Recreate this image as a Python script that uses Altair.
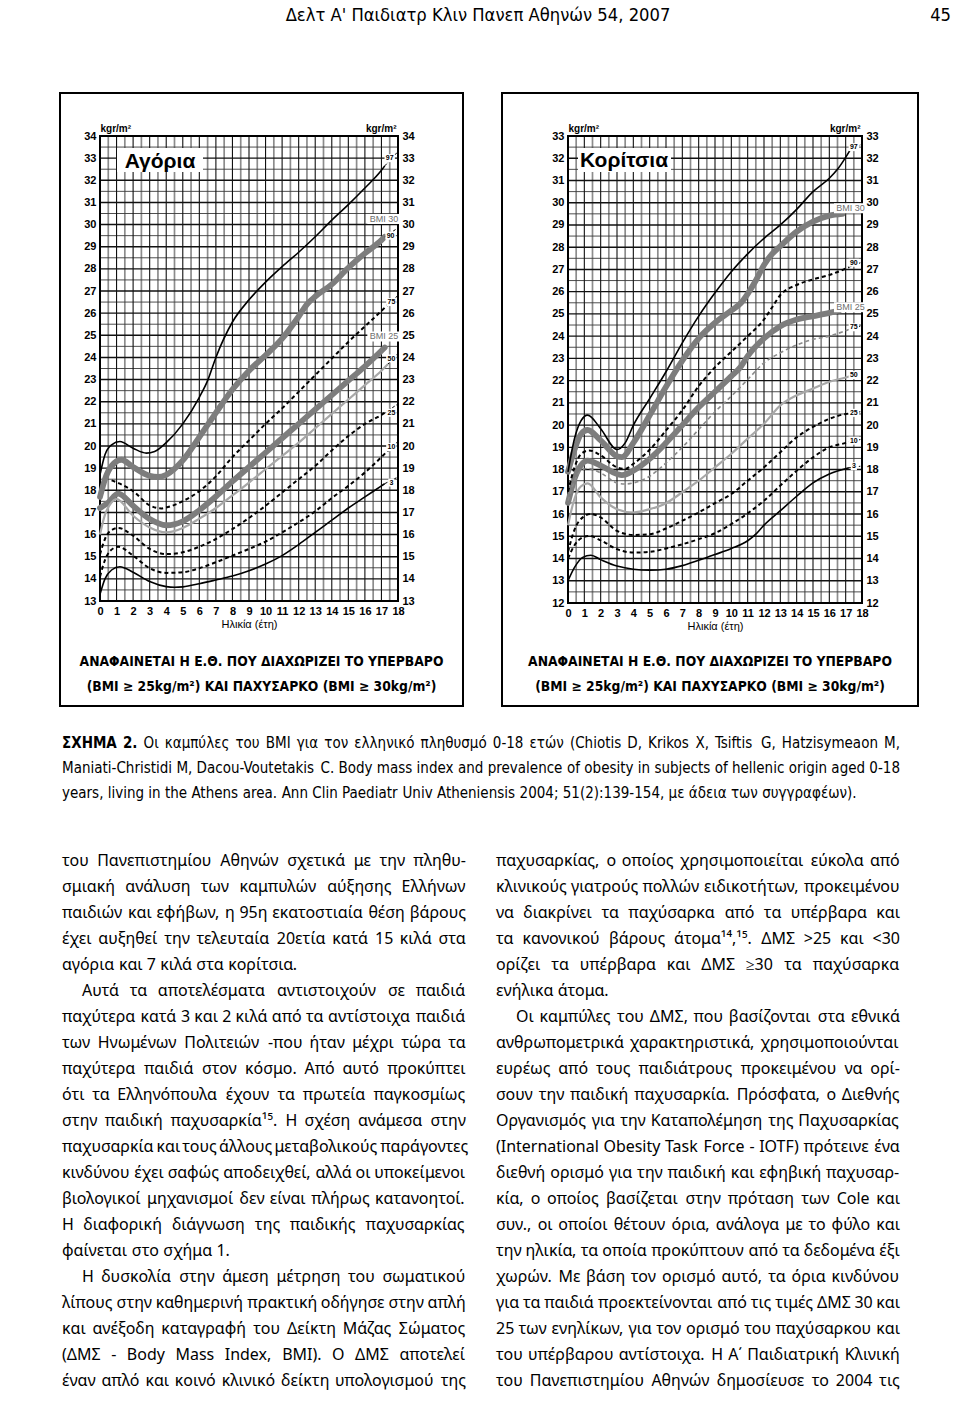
import struct
import subprocess
import altair as alt
import pandas as pd

# ====================== figure data ======================
# Boys (Αγόρια): age in years -> BMI kg/m²
B_P3_AGE = [0, 0.3, 0.7, 1.2, 2, 3, 4, 4.5, 5, 6, 7, 8, 9, 10, 11, 12, 13, 14, 15, 16, 17, 17.2]
B_P3 = [13.3, 14.0, 14.4, 14.55, 14.3, 13.88, 13.65, 13.62, 13.64, 13.78, 13.95, 14.13, 14.37, 14.67, 15.05, 15.55, 16.1, 16.65, 17.2, 17.7, 18.2, 18.3]
B_P10_AGE = [0, 0.3, 0.6, 1.1, 2, 3, 4, 5, 6, 7, 8, 9, 10, 11, 12, 13, 14, 15, 16, 17, 17.4]
B_P10 = [14.1, 14.85, 15.25, 15.45, 15.05, 14.48, 14.27, 14.3, 14.48, 14.75, 15.05, 15.35, 15.68, 16.1, 16.55, 17.05, 17.65, 18.2, 18.8, 19.5, 19.8]
B_P25_AGE = [0, 0.3, 0.6, 1.1, 2, 3, 4, 5, 6, 7, 8, 9, 10, 11, 12, 13, 14, 15, 16, 17, 17.4]
B_P25 = [15.1, 15.8, 16.15, 16.3, 15.95, 15.35, 15.12, 15.2, 15.45, 15.8, 16.25, 16.75, 17.3, 17.9, 18.5, 19.1, 19.8, 20.45, 21.0, 21.4, 21.6]
B_P50_AGE = [0, 0.3, 0.6, 1.0, 2, 3, 4, 5, 6, 7, 8, 9, 10, 11, 12, 13, 14, 15, 16, 17, 17.4]
B_P50 = [16.0, 16.9, 17.35, 17.6, 16.85, 16.32, 16.1, 16.3, 16.72, 17.2, 17.77, 18.35, 18.95, 19.55, 20.15, 20.8, 21.45, 22.1, 22.75, 23.4, 23.7]
B_P75_AGE = [0.7, 1.2, 2, 3, 3.7, 4, 5, 6, 7, 8, 9, 10, 11, 12, 13, 14, 15, 16, 17, 17.4]
B_P75 = [18.45, 18.3, 17.96, 17.32, 17.18, 17.22, 17.51, 17.96, 18.63, 19.5, 20.25, 21.0, 21.7, 22.45, 23.2, 23.95, 24.7, 25.4, 26.1, 26.4]
B_BMI25_AGE = [0, 0.5, 1.1, 2, 3, 4, 5, 6, 7, 8, 9, 10, 11, 12, 13, 14, 15, 16, 17, 17.2]
B_BMI25 = [17.2, 17.45, 17.85, 17.3, 16.7, 16.42, 16.6, 17.1, 17.72, 18.4, 19.05, 19.7, 20.35, 21.0, 21.65, 22.3, 22.95, 23.6, 24.3, 24.45]
B_BMI30_AGE = [0, 0.3, 0.7, 1.3, 2, 3, 3.5, 4, 5, 6, 7, 8, 9, 10, 11, 12, 12.5, 13, 14, 15, 16, 17, 17.2]
B_BMI30 = [17.7, 18.5, 19.1, 19.38, 19.05, 18.65, 18.6, 18.7, 19.35, 20.4, 21.5, 22.55, 23.4, 24.1, 24.85, 25.85, 26.4, 26.75, 27.3, 28.05, 28.7, 29.3, 29.45]
B_P97_AGE = [0, 0.3, 0.7, 1.2, 2, 2.8, 3.3, 4, 5, 6, 6.5, 7, 8, 9, 10, 11, 12, 13, 14, 15, 16, 17, 17.2]
B_P97 = [18.7, 19.6, 20.05, 20.2, 19.9, 19.68, 19.75, 20.15, 21.0, 22.2, 22.95, 24.0, 25.6, 26.6, 27.4, 28.1, 28.75, 29.45, 30.2, 30.9, 31.65, 32.45, 32.65]

B_LAB_TEXT = ["97", "90", "75", "50", "25", "10", "3"]
B_LAB_AGE = [17.5, 17.55, 17.6, 17.6, 17.6, 17.6, 17.6]
B_LAB_VAL = [33.0, 29.5, 26.5, 23.95, 21.5, 19.95, 18.35]
B_BMI_LAB = ["BMI 30", "BMI 25"]
B_BMI_LAB_AGE = [17.15, 17.15]
B_BMI_LAB_VAL = [30.25, 24.95]
B_TAIL_AGE0 = [17.2, 17.2, 17.4, 17.4, 17.4, 17.4, 17.2]
B_TAIL_VAL0 = [32.65, 29.45, 26.4, 23.7, 21.6, 19.8, 18.3]
B_TAIL_VAL1 = [33.3, 29.85, 26.8, 24.2, 21.9, 20.2, 18.6]

# Girls (Κορίτσια)
G_P3_AGE = [0, 0.4, 0.9, 1.4, 2, 3, 4, 5, 6, 7, 8, 9, 10, 11, 11.5, 12, 13, 14, 15, 16, 17.2]
G_P3 = [13.0, 13.6, 14.05, 14.15, 13.95, 13.66, 13.52, 13.48, 13.52, 13.68, 13.92, 14.18, 14.45, 14.8, 15.1, 15.5, 16.15, 16.8, 17.4, 17.8, 18.08]
G_P10_AGE = [0, 0.4, 0.9, 1.3, 2, 3, 4, 5, 6, 7, 8, 9, 10, 11, 12, 13, 14, 15, 16, 17, 17.2]
G_P10 = [14.0, 14.6, 14.95, 15.02, 14.82, 14.42, 14.27, 14.3, 14.45, 14.64, 14.87, 15.14, 15.55, 16.03, 16.6, 17.28, 17.95, 18.55, 19.0, 19.2, 19.25]
G_P25_AGE = [0, 0.4, 0.9, 1.4, 2, 3, 4, 5, 6, 7, 8, 9, 10, 11, 12, 13, 14, 15, 16, 17, 17.2]
G_P25 = [14.3, 15.3, 15.85, 16.0, 15.85, 15.24, 15.06, 15.09, 15.35, 15.7, 16.07, 16.49, 16.9, 17.5, 18.1, 18.78, 19.45, 19.92, 20.28, 20.5, 20.52]
G_P50_AGE = [0, 0.4, 0.8, 1.2, 2, 3, 4, 5, 6, 7, 8, 9, 10, 11, 12, 13, 14, 15, 16, 17, 17.3]
G_P50 = [15.5, 16.7, 17.25, 17.38, 16.75, 16.22, 16.07, 16.22, 16.49, 16.98, 17.5, 18.1, 18.71, 19.39, 20.06, 20.89, 21.34, 21.64, 21.95, 22.14, 22.2]
G_P75_AGE = [0, 0.4, 0.8, 1.2, 2, 3, 3.5, 4, 5, 6, 7, 8, 9, 10, 11, 12, 13, 14, 15, 16, 17.2]
G_P75 = [16.6, 17.5, 17.95, 18.05, 17.85, 17.4, 17.35, 17.4, 17.7, 18.3, 19.0, 19.8, 20.6, 21.3, 22.05, 22.8, 23.25, 23.6, 23.85, 24.0, 24.3]
G_P90_AGE = [0, 0.4, 0.8, 1.3, 2, 3, 3.5, 4, 5, 6, 7, 8, 9, 10, 11, 12, 12.5, 13, 14, 15, 16, 17.2]
G_P90 = [17.0, 18.1, 18.7, 18.86, 18.64, 18.1, 18.03, 18.26, 18.89, 19.76, 20.67, 21.75, 22.6, 23.3, 24.0, 24.75, 25.3, 25.85, 26.3, 26.55, 26.75, 27.1]
G_BMI25_AGE = [0, 0.4, 0.8, 1.2, 2, 3, 3.3, 4, 5, 6, 7, 8, 9, 10, 10.6, 11, 12, 13, 14, 15, 16, 16.6]
G_BMI25 = [16.5, 17.6, 18.2, 18.4, 18.18, 17.8, 17.75, 17.95, 18.48, 19.2, 20.0, 20.8, 21.5, 22.2, 22.65, 23.1, 23.9, 24.45, 24.75, 24.9, 25.05, 25.15]
G_BMI30_AGE = [0, 0.4, 0.8, 1.2, 2, 3, 3.3, 4, 5, 6, 7, 8, 9, 10, 10.6, 11, 11.5, 12, 12.5, 13, 14, 15, 16, 16.8]
G_BMI30 = [17.9, 18.9, 19.6, 19.78, 19.31, 18.6, 18.56, 19.2, 20.44, 21.72, 22.9, 23.9, 24.6, 25.15, 25.5, 25.9, 26.5, 27.2, 27.7, 28.05, 28.7, 29.15, 29.42, 29.5]
G_P97_AGE = [0, 0.4, 0.8, 1.2, 2, 3, 3.5, 4, 5, 6, 7, 8, 9, 10, 11, 12, 13, 14, 15, 16, 16.5, 17.3]
G_P97 = [17.9, 19.4, 20.2, 20.45, 19.84, 18.9, 19.2, 19.99, 21.19, 22.4, 23.7, 24.9, 25.95, 26.9, 27.7, 28.4, 29.0, 29.7, 30.5, 31.1, 31.5, 32.4]

G_LAB_TEXT = ["97", "90", "75", "50", "25", "10", "3"]
G_LAB_AGE = [17.5, 17.5, 17.5, 17.5, 17.5, 17.5, 17.5]
G_LAB_VAL = [32.5, 27.3, 24.4, 22.25, 20.55, 19.3, 18.15]
G_BMI_LAB = ["BMI 30", "BMI 25"]
G_BMI_LAB_AGE = [17.3, 17.3]
G_BMI_LAB_VAL = [29.75, 25.3]
G_TAIL_AGE0 = [17.3, 17.2, 17.2, 17.3, 17.2, 17.2, 17.2]
G_TAIL_VAL0 = [32.4, 27.1, 24.3, 22.2, 20.52, 19.25, 18.08]
G_TAIL_VAL1 = [32.6, 27.3, 24.45, 22.25, 20.6, 19.35, 18.15]

# ====================== page text ======================
HEADER = "Δελτ Α' Παιδιατρ Κλιν Πανεπ Αθηνών 54, 2007"
PAGE_NO = "45"
TITLE_BOYS = "Αγόρια"
TITLE_GIRLS = "Κορίτσια"
X_TITLE = "Ηλικία (έτη)"
Y_TITLE = "kgr/m²"
BOX_NOTE = ["ΑΝΑΦΑΙΝΕΤΑΙ Η Ε.Θ. ΠΟΥ ΔΙΑΧΩΡΙΖΕΙ ΤΟ ΥΠΕΡΒΑΡΟ",
            "(BMI ≥ 25kg/m²) ΚΑΙ ΠΑΧΥΣΑΡΚΟ (BMI ≥ 30kg/m²)"]
FIG_LABEL = "ΣΧΗΜΑ 2."
CAPTION = [
    "Οι καμπύλες του BMI για τον ελληνικό πληθυσμό 0-18 ετών (Chiotis D, Krikos X, Tsiftis G, Hatzisymeaon M,",
    "Maniati-Christidi M, Dacou-Voutetakis C. Body mass index and prevalence of obesity in subjects of hellenic origin aged 0-18",
    "years, living in the Athens area. Ann Clin Paediatr Univ Atheniensis 2004; 51(2):139-154, με άδεια των συγγραφέων).",
]
LEFT_COL = [
    "του Πανεπιστημίου Αθηνών σχετικά με την πληθυ-",
    "σμιακή ανάλυση των καμπυλών αύξησης Ελλήνων",
    "παιδιών και εφήβων, η 95η εκατοστιαία θέση βάρους",
    "έχει αυξηθεί την τελευταία 20ετία κατά 15 κιλά στα",
    "αγόρια και 7 κιλά στα κορίτσια.",
    "Αυτά τα αποτελέσματα αντιστοιχούν σε παιδιά",
    "παχύτερα κατά 3 και 2 κιλά από τα αντίστοιχα παιδιά",
    "των Ηνωμένων Πολιτειών -που ήταν μέχρι τώρα τα",
    "παχύτερα παιδιά στον κόσμο. Από αυτό προκύπτει",
    "ότι τα Ελληνόπουλα έχουν τα πρωτεία παγκοσμίως",
    "στην παιδική παχυσαρκία¹⁵. Η σχέση ανάμεσα στην",
    "παχυσαρκία και τους άλλους μεταβολικούς παράγοντες",
    "κινδύνου έχει σαφώς αποδειχθεί, αλλά οι υποκείμενοι",
    "βιολογικοί μηχανισμοί δεν είναι πλήρως κατανοητοί.",
    "Η διαφορική διάγνωση της παιδικής παχυσαρκίας",
    "φαίνεται στο σχήμα 1.",
    "Η δυσκολία στην άμεση μέτρηση του σωματικού",
    "λίπους στην καθημερινή πρακτική οδήγησε στην απλή",
    "και ανέξοδη καταγραφή του Δείκτη Μάζας Σώματος",
    "(ΔΜΣ - Body Mass Index, BMI). Ο ΔΜΣ αποτελεί",
    "έναν απλό και κοινό κλινικό δείκτη υπολογισμού της",
]
LEFT_INDENT = [5, 16]
LEFT_LAST = [4, 15]
RIGHT_COL = [
    "παχυσαρκίας, ο οποίος χρησιμοποιείται εύκολα από",
    "κλινικούς γιατρούς πολλών ειδικοτήτων, προκειμένου",
    "να διακρίνει τα παχύσαρκα από τα υπέρβαρα και",
    "τα κανονικού βάρους άτομα¹⁴,¹⁵. ΔΜΣ >25 και <30",
    "ορίζει τα υπέρβαρα και ΔΜΣ ≥30 τα παχύσαρκα",
    "ενήλικα άτομα.",
    "Οι καμπύλες του ΔΜΣ, που βασίζονται στα εθνικά",
    "ανθρωπομετρικά χαρακτηριστικά, χρησιμοποιούνται",
    "ευρέως από τους παιδιάτρους προκειμένου να ορί-",
    "σουν την παιδική παχυσαρκία. Πρόσφατα, ο Διεθνής",
    "Οργανισμός για την Καταπολέμηση της Παχυσαρκίας",
    "(International Obesity Task Force - IOTF) πρότεινε ένα",
    "διεθνή ορισμό για την παιδική και εφηβική παχυσαρ-",
    "κία, ο οποίος βασίζεται στην πρόταση των Cole και",
    "συν., οι οποίοι θέτουν όρια, ανάλογα με το φύλο και",
    "την ηλικία, τα οποία προκύπτουν από τα δεδομένα έξι",
    "χωρών. Με βάση τον ορισμό αυτό, τα όρια κινδύνου",
    "για τα παιδιά προεκτείνονται από τις τιμές ΔΜΣ 30 και",
    "25 των ενηλίκων, για τον ορισμό του παχύσαρκου και",
    "του υπέρβαρου αντίστοιχα. Η Α΄ Παιδιατρική Κλινική",
    "του Πανεπιστημίου Αθηνών δημοσίευσε το 2004 τις",
]
RIGHT_INDENT = [6]
RIGHT_LAST = [5]

# ====================== layout constants (page pixels) ======================
OX, OY = 100, 136            # page position of the root plot origin (boys plot top-left)
B_W, B_H = 298, 465          # boys plot
G_OFF, G_W, G_H = 468, 294, 467   # girls plot (x offset from boys plot)
ROOT_W, ROOT_H = G_OFF + G_W, G_H
PAGE_W, PAGE_H = 960, 1403


# ====================== font metrics (for justified text) ======================
def fc(spec):
    try:
        r = subprocess.run(["fc-match", "-f", "%{family}\t%{file}", spec],
                           capture_output=True, text=True, timeout=10)
        fam, path = r.stdout.split("\t", 1)
        return fam, path.strip()
    except Exception:
        return "", ""


def ttf_widths(path):
    data = open(path, "rb").read()
    off0 = struct.unpack(">I", data[12:16])[0] if data[:4] == b"ttcf" else 0
    num = struct.unpack(">H", data[off0 + 4:off0 + 6])[0]
    tables = {}
    for i in range(num):
        rec = off0 + 12 + 16 * i
        tag = data[rec:rec + 4].decode("latin1")
        toff = struct.unpack(">I", data[rec + 8:rec + 12])[0]
        tables[tag] = toff
    head = tables["head"]
    upem = struct.unpack(">H", data[head + 18:head + 20])[0]
    hhea = tables["hhea"]
    nhm = struct.unpack(">H", data[hhea + 34:hhea + 36])[0]
    hm = tables["hmtx"]
    adv = struct.unpack(">%dH" % (2 * nhm), data[hm:hm + 4 * nhm])[0::2]
    cm = tables["cmap"]
    nsub = struct.unpack(">H", data[cm + 2:cm + 4])[0]
    cmap = {}
    for i in range(nsub):
        pid, eid, off = struct.unpack(">HHI", data[cm + 4 + 8 * i:cm + 12 + 8 * i])
        st = cm + off
        fmt = struct.unpack(">H", data[st:st + 2])[0]
        if fmt != 4 or pid not in (0, 3):
            continue
        segx2 = struct.unpack(">H", data[st + 6:st + 8])[0]
        seg = segx2 // 2
        ends = struct.unpack(">%dH" % seg, data[st + 14:st + 14 + segx2])
        starts = struct.unpack(">%dH" % seg, data[st + 16 + segx2:st + 16 + 2 * segx2])
        deltas = struct.unpack(">%dh" % seg, data[st + 16 + 2 * segx2:st + 16 + 3 * segx2])
        rpos = st + 16 + 3 * segx2
        roffs = struct.unpack(">%dH" % seg, data[rpos:rpos + segx2])
        for s in range(seg):
            for c in range(starts[s], ends[s] + 1):
                if c == 0xFFFF:
                    continue
                if roffs[s] == 0:
                    g = (c + deltas[s]) & 0xFFFF
                else:
                    gi = rpos + 2 * s + roffs[s] + 2 * (c - starts[s])
                    g = struct.unpack(">H", data[gi:gi + 2])[0]
                    if g:
                        g = (g + deltas[s]) & 0xFFFF
                cmap[c] = g
        break
    if not cmap:
        raise ValueError("no cmap")

    def width(text):
        return sum(adv[min(cmap.get(ord(ch), 0), nhm - 1)] for ch in text) / upem
    return width


def metrics(spec):
    fam, path = fc(spec)
    try:
        return fam, ttf_widths(path)
    except Exception:
        return fam, None


BODY_FONT = "Noto Sans"
_, W_BODY = metrics("Noto Sans")
fam_n, W_CAP = metrics("Liberation Sans Narrow")
if "Narrow" in fam_n:
    CAP_FONT = "Liberation Sans Narrow"
    _, W_CAPB = metrics("Liberation Sans Narrow:bold")
else:
    fam_c, W_CAP = metrics("DejaVu Sans Condensed")
    if "Condensed" in fam_c:
        CAP_FONT = "DejaVu Sans Condensed"
        _, W_CAPB = metrics("DejaVu Sans Condensed:bold")
    else:
        CAP_FONT = "Liberation Sans"
        _, W_CAP = metrics("Liberation Sans")
        _, W_CAPB = metrics("Liberation Sans:bold")


def fit_size(lines, col_w, wfun, pref, lasts=()):
    if wfun is None:
        return pref
    ratios = []
    for i, line in enumerate(lines):
        if i in lasts:
            continue
        nat = wfun(line)
        if nat > 0:
            ratios.append(col_w / nat)
    ratios.sort()
    if not ratios:
        return pref
    return min(pref, ratios[max(0, len(ratios) // 6)])


def justify(lines, x0, col_w, y0, lh, wfun, size, indents=(), lasts=(),
            indent=20.0, bold_words=0, wbold=None):
    rows = []
    for i, line in enumerate(lines):
        ind = indent if i in indents else 0.0
        x, w, y = x0 + ind, col_w - ind, y0 + i * lh
        words = line.split(" ")
        nb = bold_words if i == 0 else 0
        if wfun is None:
            if nb:
                head = " ".join(words[:nb])
                rows.append({"txt": head, "px": x, "py": y, "b": 1})
                rows.append({"txt": " ".join(words[nb:]), "px": x + len(head) * size * 0.62 + 5,
                             "py": y, "b": 0})
            else:
                rows.append({"txt": line, "px": x, "py": y, "b": 0})
            continue
        ws = [((wbold or wfun) if j < nb else wfun)(t) * size for j, t in enumerate(words)]
        if i in lasts or len(words) == 1:
            gap = wfun(" ") * size
        else:
            gap = max((w - sum(ws)) / (len(words) - 1), 0.12 * size)
        cx = x
        for j, (t, ww) in enumerate(zip(words, ws)):
            rows.append({"txt": t, "px": cx, "py": y, "b": 1 if j < nb else 0})
            cx += ww + gap
    return rows


# ---- page text placement (page pixel coordinates) ----
BODY_SIZE = fit_size(LEFT_COL + RIGHT_COL, 404, W_BODY, 17.5,
                     lasts=LEFT_LAST + [21 + k for k in RIGHT_LAST])
body_rows = justify(LEFT_COL, 62, 404, 866, 26, W_BODY, BODY_SIZE, LEFT_INDENT, LEFT_LAST)
body_rows += justify(RIGHT_COL, 496, 404, 866, 26, W_BODY, BODY_SIZE, RIGHT_INDENT, RIGHT_LAST)

cap_lines = [FIG_LABEL + " " + CAPTION[0]] + CAPTION[1:]
CAP_SIZE = fit_size(cap_lines, 838, W_CAP, 19, lasts=[2])
cap_rows = justify(cap_lines, 62, 838, 748, 25, W_CAP, CAP_SIZE, lasts=[2],
                   bold_words=len(FIG_LABEL.split(" ")), wbold=W_CAPB)

HEAD_SIZE = 385 / W_CAP(HEADER) if W_CAP else 21
NOTE_SIZE = 364 / W_CAPB(BOX_NOTE[0]) if W_CAPB else 15


def to_root(rows):
    df = pd.DataFrame(rows)
    df["px"] = df["px"] - OX
    df["py"] = df["py"] - OY
    return df


PX_SCALE = alt.Scale(domain=[0, ROOT_W], range=[0, ROOT_W], nice=False, zero=False)
PY_SCALE = alt.Scale(domain=[0, ROOT_H], range=[0, ROOT_H], nice=False, zero=False)


def px_text(df, **mk):
    return alt.Chart(df).mark_text(**mk).encode(
        x=alt.X("px:Q", scale=PX_SCALE, axis=None),
        y=alt.Y("py:Q", scale=PY_SCALE, axis=None),
        text=alt.Text("txt:N"),
    )


def curves(pairs):
    return pd.concat([pd.DataFrame({"age": a, "bmi": v, "curve": n}) for n, a, v in pairs],
                     ignore_index=True)


ONE = pd.DataFrame({"k": [0]})


def vtext(text, x, y, **mk):
    return alt.Chart(ONE).mark_text(text=text, **mk).encode(x=alt.value(x), y=alt.value(y))


def vrect(x0, x1, y0, y1, **mk):
    return alt.Chart(ONE).mark_rect(**mk).encode(
        x=alt.value(x0), x2=alt.value(x1), y=alt.value(y0), y2=alt.value(y1))


def panel(ymin, ymax, x0, W, H, thick, black_solid, black_dash, gray_solid, gray_dash,
          tails, tail_end, labs, bmilabs, title, title_box, title_xy, box, note_cx):
    """Return [main group, axis units]; x0 = pixel offset of this plot in the root view."""
    xs = alt.Scale(domain=[0, 18], range=[x0, x0 + W], nice=False, zero=False)
    ys = alt.Scale(domain=[ymin, ymax], range=[H, 0], nice=False, zero=False)
    ppy = W / 18.0
    ppu = H / float(ymax - ymin)
    X = lambda f: alt.X(f, scale=xs, axis=None)
    Y = lambda f: alt.Y(f, scale=ys, axis=None)

    common = dict(ticks=False, domain=False, grid=False, labelFont="Liberation Sans",
                  labelFontWeight="bold", labelFontSize=11, labelColor="black",
                  labelOverlap=False, labelFlush=False, zindex=2)
    xaxis = alt.Axis(orient="bottom", values=list(range(19)), title=X_TITLE, labelPadding=4,
                     offset=H - ROOT_H, titleFont="Liberation Sans", titleFontSize=11,
                     titleFontWeight="normal", titleColor="black", titlePadding=2, **common)
    ytitle = dict(title=Y_TITLE, titleAngle=0, titleY=-5, titleBaseline="alphabetic",
                  titleFont="Liberation Sans", titleFontSize=10, titleFontWeight="bold",
                  titleColor="black", labelPadding=4)
    yl = alt.Axis(orient="left", values=list(range(ymin, ymax + 1)), offset=-x0,
                  titleX=0, titleAlign="left", **ytitle, **common)
    yr = alt.Axis(orient="right", values=list(range(ymin, ymax + 1)), offset=-(ROOT_W - x0 - W),
                  titleX=-2, titleAlign="right", **ytitle, **common)

    gx_minor = pd.DataFrame({"g": [i + 0.5 for i in range(18)]})
    gx_major = pd.DataFrame({"g": list(range(19))})
    gy_minor = pd.DataFrame({"g": [v + 0.5 for v in range(ymin, ymax)]})
    gy_major = pd.DataFrame({"g": list(range(ymin, ymax + 1))})

    layers = [
        vrect(box[0], box[1], box[2], box[3], fill="white", stroke="black", strokeWidth=2),
        alt.Chart(gx_minor).mark_rule(color="#8c8c8c", strokeWidth=1.7).encode(
            x=X("g:Q"), y=alt.value(0), y2=alt.value(H)),
        alt.Chart(gy_minor).mark_rule(color="#3a3a3a", strokeWidth=0.9).encode(
            y=Y("g:Q"), x=alt.value(x0), x2=alt.value(x0 + W)),
        alt.Chart(gx_major).mark_rule(color="#111111", strokeWidth=1.1).encode(
            x=X("g:Q"), y=alt.value(0), y2=alt.value(H)),
        alt.Chart(gy_major).mark_rule(color="#111111", strokeWidth=1.4).encode(
            y=Y("g:Q"), x=alt.value(x0), x2=alt.value(x0 + W)),
        vrect(x0, x0 + W, 0, H, fillOpacity=0, stroke="black", strokeWidth=2),
        vrect(x0 + title_box[0], x0 + title_box[1], title_box[2], title_box[3], color="white"),
        vtext(title, x0 + title_xy[0], title_xy[1], font="Liberation Sans", fontWeight="bold",
              fontSize=21, align="center", baseline="alphabetic", color="black"),
        alt.Chart(thick).mark_line(interpolate="monotone", color="#7d7d7d", strokeWidth=5.8,
                                   strokeCap="round", strokeJoin="round").encode(
            x=X("age:Q"), y=Y("bmi:Q"), detail="curve:N"),
        alt.Chart(gray_solid).mark_line(interpolate="monotone", color="#a8a8a8",
                                        strokeWidth=2.2).encode(
            x=X("age:Q"), y=Y("bmi:Q"), detail="curve:N"),
    ]
    if gray_dash is not None:
        layers.append(alt.Chart(gray_dash).mark_line(interpolate="monotone", color="#8a8a8a",
                                                     strokeWidth=1.6, strokeDash=[4, 3]).encode(
            x=X("age:Q"), y=Y("bmi:Q"), detail="curve:N"))
    layers.append(alt.Chart(black_dash).mark_line(interpolate="monotone", color="black",
                                                  strokeWidth=2.0, strokeDash=[4, 3]).encode(
        x=X("age:Q"), y=Y("bmi:Q"), detail="curve:N"))
    layers.append(alt.Chart(black_solid).mark_line(interpolate="monotone", color="black",
                                                   strokeWidth=1.6).encode(
        x=X("age:Q"), y=Y("bmi:Q"), detail="curve:N"))
    tdf = pd.DataFrame({"a0": tails[0], "v0": tails[1], "v1": tails[2]})
    tdf["a1"] = tail_end
    layers.append(alt.Chart(tdf).mark_rule(color="black", strokeWidth=1, strokeDash=[3, 2]).encode(
        x=X("a0:Q"), x2="a1:Q", y=Y("v0:Q"), y2="v1:Q"))
    ldf = pd.DataFrame({"t": labs[0], "age": labs[1], "val": labs[2]})
    hw = (ldf["t"].str.len() * 4.2 + 2) / 2 / ppy
    ldf["l0"], ldf["l1"] = ldf["age"] - hw, ldf["age"] + hw
    ldf["b0"], ldf["b1"] = ldf["val"] - 4 / ppu, ldf["val"] + 4 / ppu
    layers.append(alt.Chart(ldf).mark_rect(color="white").encode(
        x=X("l0:Q"), x2="l1:Q", y=Y("b0:Q"), y2="b1:Q"))
    layers.append(alt.Chart(ldf).mark_text(font="Liberation Sans", fontSize=7, fontWeight="bold",
                                           color="black", baseline="middle").encode(
        x=X("age:Q"), y=Y("val:Q"), text="t:N"))
    bdf = pd.DataFrame({"t": bmilabs[0], "age": bmilabs[1], "val": bmilabs[2]})
    hw = (bdf["t"].str.len() * 5.2 + 2) / 2 / ppy
    bdf["l0"], bdf["l1"] = bdf["age"] - hw, bdf["age"] + hw
    bdf["b0"], bdf["b1"] = bdf["val"] - 5 / ppu, bdf["val"] + 5 / ppu
    layers.append(alt.Chart(bdf).mark_rect(color="white").encode(
        x=X("l0:Q"), x2="l1:Q", y=Y("b0:Q"), y2="b1:Q"))
    layers.append(alt.Chart(bdf).mark_text(font="Liberation Sans", fontSize=9, color="#6f6f6f",
                                           baseline="middle").encode(
        x=X("age:Q"), y=Y("val:Q"), text="t:N"))
    for k, line in enumerate(BOX_NOTE):
        layers.append(vtext(line, note_cx, 530 + 25 * k, font=CAP_FONT, fontWeight="bold",
                            fontSize=NOTE_SIZE, align="center", baseline="alphabetic",
                            color="black"))
    main = alt.layer(*layers)
    # axis-only units (each a top-level child so that its axis is drawn)
    x_unit = alt.Chart(gx_major).mark_rule(opacity=0).encode(
        x=alt.X("g:Q", scale=xs, axis=xaxis), y=alt.value(0), y2=alt.value(H))
    yl_unit = alt.Chart(gy_major).mark_rule(opacity=0).encode(
        y=alt.Y("g:Q", scale=ys, axis=yl), x=alt.value(x0), x2=alt.value(x0 + W))
    yr_unit = alt.Chart(gy_major).mark_rule(opacity=0).encode(
        y=alt.Y("g:Q", scale=ys, axis=yr), x=alt.value(x0), x2=alt.value(x0 + W))
    return [main, x_unit, yl_unit, yr_unit]


boys_parts = panel(
    13, 34, 0, B_W, B_H,
    thick=curves([("BMI25", B_BMI25_AGE, B_BMI25), ("BMI30", B_BMI30_AGE, B_BMI30)]),
    black_solid=curves([("P3", B_P3_AGE, B_P3), ("P97", B_P97_AGE, B_P97)]),
    black_dash=curves([("P10", B_P10_AGE, B_P10), ("P25", B_P25_AGE, B_P25), ("P75", B_P75_AGE, B_P75)]),
    gray_solid=curves([("P50", B_P50_AGE, B_P50)]),
    gray_dash=None,
    tails=(B_TAIL_AGE0, B_TAIL_VAL0, B_TAIL_VAL1), tail_end=18,
    labs=(B_LAB_TEXT, B_LAB_AGE, B_LAB_VAL),
    bmilabs=(B_BMI_LAB, B_BMI_LAB_AGE, B_BMI_LAB_VAL),
    title=TITLE_BOYS, title_box=(17, 103, 12, 36), title_xy=(60, 32),
    box=(-40, 363, -43, 570), note_cx=161.5,
)

girls_parts = panel(
    12, 33, G_OFF, G_W, G_H,
    thick=curves([("BMI25", G_BMI25_AGE, G_BMI25), ("BMI30", G_BMI30_AGE, G_BMI30)]),
    black_solid=curves([("P3", G_P3_AGE, G_P3), ("P97", G_P97_AGE, G_P97)]),
    black_dash=curves([("P10", G_P10_AGE, G_P10), ("P25", G_P25_AGE, G_P25), ("P90", G_P90_AGE, G_P90)]),
    gray_solid=curves([("P50", G_P50_AGE, G_P50)]),
    gray_dash=curves([("P75", G_P75_AGE, G_P75)]),
    tails=(G_TAIL_AGE0, G_TAIL_VAL0, G_TAIL_VAL1), tail_end=17.9,
    labs=(G_LAB_TEXT, G_LAB_AGE, G_LAB_VAL),
    bmilabs=(G_BMI_LAB, G_BMI_LAB_AGE, G_BMI_LAB_VAL),
    title=TITLE_GIRLS, title_box=(10, 103, 12, 36), title_xy=(56, 31),
    box=(G_OFF - 66, G_OFF + 350, -43, 570), note_cx=G_OFF + 142,
)

# ---------------- page-level text ----------------
page_bg = vrect(-OX, PAGE_W - OX, -OY, PAGE_H - OY, color="white")
head_df = to_root([{"txt": HEADER, "px": 478, "py": 21}])
pno_df = to_root([{"txt": PAGE_NO, "px": 951, "py": 21}])
body_df = to_root(body_rows)
cap_df = to_root(cap_rows)

text_group = alt.layer(
    px_text(head_df, font=CAP_FONT, fontSize=HEAD_SIZE, align="center",
            baseline="alphabetic", color="black"),
    px_text(pno_df, font=CAP_FONT, fontSize=HEAD_SIZE, align="right",
            baseline="alphabetic", color="black"),
    px_text(body_df, font=BODY_FONT, fontSize=BODY_SIZE, align="left",
            baseline="alphabetic", color="black"),
    px_text(cap_df[cap_df["b"] == 0], font=CAP_FONT, fontSize=CAP_SIZE, align="left",
            baseline="alphabetic", color="black"),
    px_text(cap_df[cap_df["b"] == 1], font=CAP_FONT, fontSize=CAP_SIZE,
            fontWeight="bold", align="left", baseline="alphabetic", color="black"),
)

chart = alt.layer(
    page_bg, *boys_parts, *girls_parts, text_group
).resolve_scale(x="independent", y="independent").properties(
    width=ROOT_W, height=ROOT_H, padding=0, background="white"
).configure_view(stroke=None)

chart.save("out.html", embed_options={"renderer": "svg", "actions": False})
